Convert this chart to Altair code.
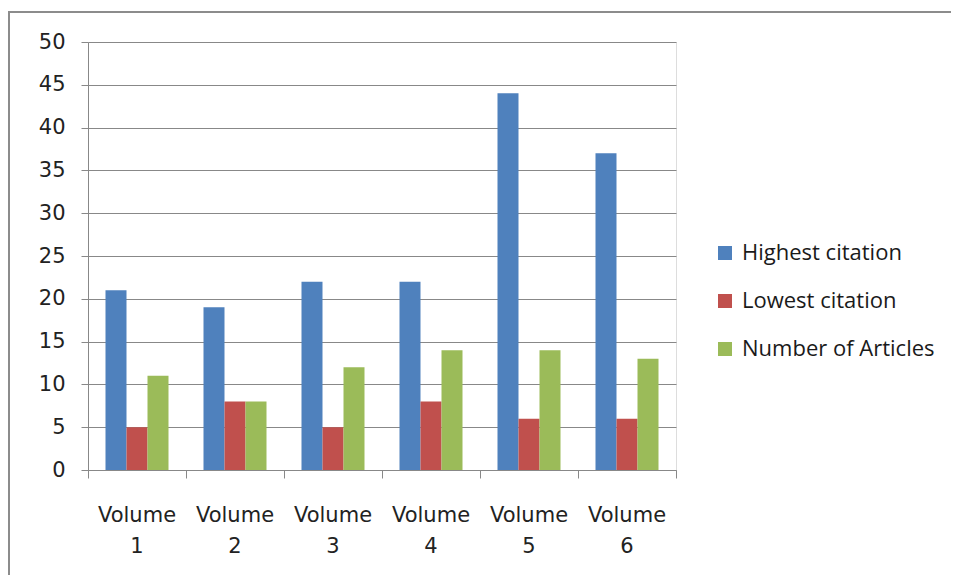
import altair as alt
import pandas as pd

volumes = ["Volume 1", "Volume 2", "Volume 3", "Volume 4", "Volume 5", "Volume 6"]
series = ["Highest citation", "Lowest citation", "Number of Articles"]
highest = [21, 19, 22, 22, 44, 37]
lowest = [5, 8, 5, 8, 6, 6]
articles = [11, 8, 12, 14, 14, 13]
colors = ["#4F81BD", "#C0504D", "#9BBB59"]
y_ticks = [0, 5, 10, 15, 20, 25, 30, 35, 40, 45, 50]

rows = []
for i, v in enumerate(volumes):
    for s, vals in zip(series, [highest, lowest, articles]):
        rows.append({"volume": v, "series": s, "value": vals[i]})
df = pd.DataFrame(rows)

W, H = 588, 428
AXIS_COL = "#888888"

bars = alt.Chart(df).mark_bar().encode(
    x=alt.X("volume:N", sort=volumes, title=None,
            scale=alt.Scale(paddingInner=0, paddingOuter=0),
            axis=alt.Axis(labelAngle=0, bandPosition=1, tickExtra=True,
                          labelOffset=0, tickSize=8, tickColor=AXIS_COL,
                          domainColor=AXIS_COL, labelFont="DejaVu Sans",
                          labelFontSize=21, labelColor="#222222",
                          labelPadding=26, labelLineHeight=31,
                          labelExpr="datum.extra ? '' : ['Volume', substring(datum.label, 7)]",
                          grid=False)),
    xOffset=alt.XOffset("series:N", sort=series,
                        scale=alt.Scale(paddingInner=0, paddingOuter=0.833)),
    y=alt.Y("value:Q", title=None,
            scale=alt.Scale(domain=[0, 50], nice=False),
            axis=alt.Axis(values=y_ticks, tickSize=7, tickColor=AXIS_COL,
                          domainColor=AXIS_COL, gridColor=AXIS_COL,
                          labelFont="DejaVu Sans", labelFontSize=21,
                          labelColor="#222222", labelPadding=16)),
    color=alt.Color("series:N", sort=series, title=None,
                    scale=alt.Scale(domain=series, range=colors),
                    legend=alt.Legend(orient="none", legendX=626, legendY=200,
                                      symbolType="square", symbolSize=196,
                                      symbolStrokeWidth=0, labelFont="Open Sans",
                                      labelFontSize=22, labelColor="#1a1a1a",
                                      rowPadding=26, padding=0, labelOffset=6,
                                      labelLimit=0, symbolOpacity=1)),
)

frame_data = alt.Data(values=[{}])
frame_top = alt.Chart(frame_data).mark_rule(color="#8c8c8c", strokeWidth=2).encode(
    x=alt.value(-79), x2=alt.value(W + 1000), y=alt.value(-30))
frame_left = alt.Chart(frame_data).mark_rule(color="#8c8c8c", strokeWidth=2).encode(
    x=alt.value(-79), y=alt.value(-31), y2=alt.value(H + 300))

chart = alt.layer(frame_top, frame_left, bars).properties(
    width=W, height=H,
    autosize=alt.AutoSizeParams(type="none"),
    padding={"left": 80, "top": 34, "right": 275, "bottom": 105},
).configure_view(stroke=None).configure(background="white")

chart.save("out.html", embed_options={"renderer": "svg", "actions": False})
